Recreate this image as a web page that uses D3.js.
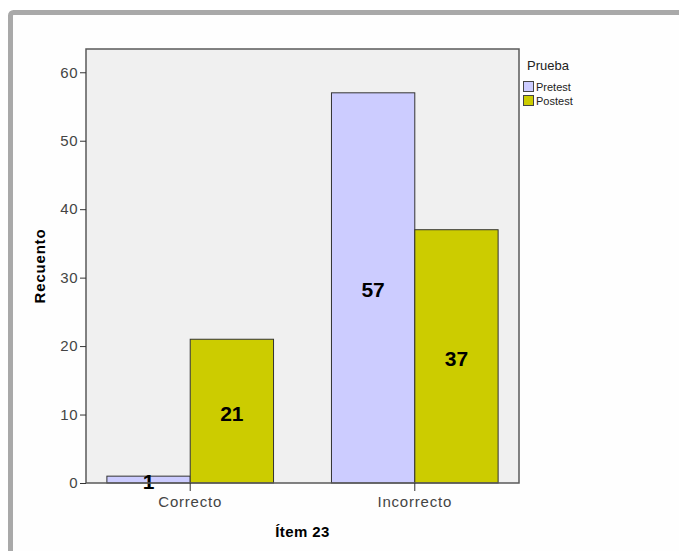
<!DOCTYPE html>
<html>
<head>
<meta charset="utf-8">
<script src="https://cdn.jsdelivr.net/npm/d3@7"></script>
<style>
  body { margin: 0; background: #fff; }
  svg { display: block; font-family: Arial, "Liberation Sans", sans-serif; }
</style>
</head>
<body>
<div id="chart"></div>
<script>
var categories = ["Correcto", "Incorrecto"];
var seriesNames = ["Pretest", "Postest"];
var pretest = [1, 57];
var postest = [21, 37];
var yTicks = [0, 10, 20, 30, 40, 50, 60];
var colors = ["#ccccff", "#cccc00"];

var width = 679,
    height = 551;

var plot = {left: 86, top: 49, right: 519, bottom: 483};

var svg = d3.select("#chart").append("svg")
    .attr("width", width)
    .attr("height", height);

// outer frame (only top and left edges visible)
svg.append("rect")
    .attr("x", 10.5).attr("y", 12.5)
    .attr("width", 720).attr("height", 600)
    .attr("rx", 3)
    .attr("fill", "#fefefe")
    .attr("stroke", "#a9a9a9")
    .attr("stroke-width", 5);

var x0 = d3.scaleBand()
    .domain(categories)
    .range([plot.left, plot.right])
    .paddingInner(0.258)
    .paddingOuter(0.093);

var x1 = d3.scaleBand()
    .domain(seriesNames)
    .range([0, x0.bandwidth()]);

var y = d3.scaleLinear()
    .domain([0, 63.4])
    .range([plot.bottom, plot.top]);

var color = d3.scaleOrdinal().domain(seriesNames).range(colors);

// plot background
svg.append("rect")
    .attr("x", plot.left).attr("y", plot.top)
    .attr("width", plot.right - plot.left)
    .attr("height", plot.bottom - plot.top)
    .attr("fill", "#f0f0f0");

var rows = categories.map(function (c, i) {
    return {cat: c, values: [
        {name: "Pretest", value: pretest[i]},
        {name: "Postest", value: postest[i]}
    ]};
});

var groups = svg.selectAll("g.cat")
    .data(rows)
    .enter().append("g")
    .attr("class", "cat")
    .attr("transform", function (d) { return "translate(" + x0(d.cat) + ",0)"; });

groups.selectAll("rect")
    .data(function (d) { return d.values; })
    .enter().append("rect")
    .attr("x", function (d) { return x1(d.name); })
    .attr("y", function (d) { return y(d.value); })
    .attr("width", x1.bandwidth())
    .attr("height", function (d) { return y(0) - y(d.value); })
    .attr("fill", function (d) { return color(d.name); })
    .attr("stroke", "#333")
    .attr("stroke-width", 1);

groups.selectAll("text.val")
    .data(function (d) { return d.values; })
    .enter().append("text")
    .attr("class", "val")
    .attr("x", function (d) { return x1(d.name) + x1.bandwidth() / 2; })
    .attr("y", function (d) { return (y(d.value) + y(0)) / 2 + 4; })
    .attr("text-anchor", "middle")
    .attr("dominant-baseline", "middle")
    .style("font-size", "21px")
    .style("font-weight", "bold")
    .attr("fill", "#000")
    .text(function (d) { return d.value; });

// plot border
svg.append("rect")
    .attr("x", plot.left).attr("y", plot.top)
    .attr("width", plot.right - plot.left)
    .attr("height", plot.bottom - plot.top)
    .attr("fill", "none")
    .attr("stroke", "#5a5a5a")
    .attr("stroke-width", 1.5);

// y axis
var yAxis = svg.append("g")
    .attr("transform", "translate(" + plot.left + ",0)")
    .call(d3.axisLeft(y).tickValues(yTicks).tickSize(6).tickPadding(2));
yAxis.select(".domain").remove();
yAxis.selectAll(".tick line").attr("stroke", "#333");
yAxis.selectAll(".tick text")
    .attr("fill", "#444")
    .style("font-size", "15px")
    .style("letter-spacing", "0.5px")
    .style("font-family", "Arial, 'Liberation Sans', sans-serif");

// x axis
var xAxis = svg.append("g")
    .attr("transform", "translate(0," + plot.bottom + ")")
    .call(d3.axisBottom(x0).tickSize(8).tickPadding(5));
xAxis.select(".domain").remove();
xAxis.selectAll(".tick line").attr("stroke", "#333");
xAxis.selectAll(".tick text")
    .attr("fill", "#444")
    .style("font-size", "15px")
    .style("letter-spacing", "0.8px")
    .style("font-family", "Arial, 'Liberation Sans', sans-serif");

// axis titles
svg.append("text")
    .attr("transform", "translate(45," + (plot.top + plot.bottom) / 2 + ") rotate(-90)")
    .attr("text-anchor", "middle")
    .style("font-size", "15px")
    .style("font-weight", "bold")
    .style("letter-spacing", "0.8px")
    .text("Recuento");

svg.append("text")
    .attr("x", (plot.left + plot.right) / 2)
    .attr("y", 537)
    .attr("text-anchor", "middle")
    .style("font-size", "15px")
    .style("font-weight", "bold")
    .style("letter-spacing", "0.4px")
    .text("Ítem 23");

// legend
var legend = svg.append("g").attr("transform", "translate(523,0)");
legend.append("text")
    .attr("x", 4).attr("y", 70)
    .style("font-size", "13px")
    .attr("fill", "#222")
    .text("Prueba");

var items = legend.selectAll("g.item")
    .data(seriesNames)
    .enter().append("g")
    .attr("class", "item")
    .attr("transform", function (d, i) { return "translate(0," + (81 + i * 14) + ")"; });

items.append("rect")
    .attr("x", 0.5).attr("y", 0.5)
    .attr("width", 10).attr("height", 10)
    .attr("fill", function (d) { return color(d); })
    .attr("stroke", "#444");

items.append("text")
    .attr("x", 13).attr("y", 10)
    .style("font-size", "11px")
    .attr("fill", "#222")
    .text(function (d) { return d; });
</script>
</body>
</html>
